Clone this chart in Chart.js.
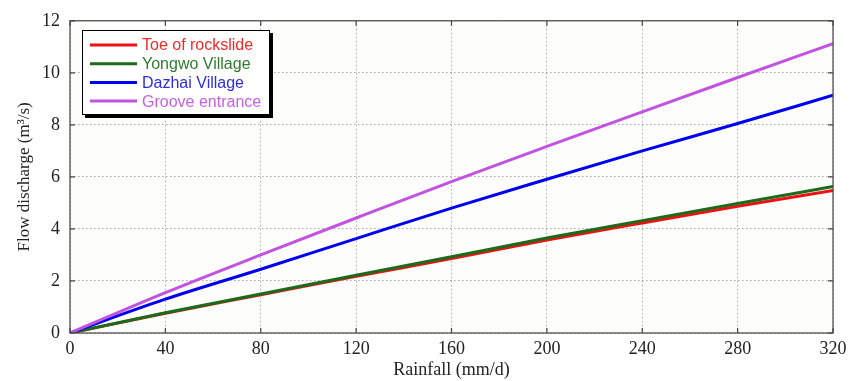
<!DOCTYPE html>
<html>
<head>
<meta charset="utf-8">
<script src="https://cdn.jsdelivr.net/npm/chart.js@4/dist/chart.umd.min.js"></script>
<style>
  html, body { margin: 0; padding: 0; background: #ffffff; }
  #wrap { width: 856px; height: 381px; position: relative; }
</style>
</head>
<body>
<div id="wrap"><canvas id="c" width="856" height="381"></canvas></div>
<script>
// ---- Data ----
const rainfall = [0, 40, 80, 120, 160, 200, 240, 280, 320];
const toeOfRockslide = [0, 0.76, 1.47, 2.18, 2.86, 3.57, 4.23, 4.87, 5.48];
const yongwoVillage  = [0, 0.78, 1.50, 2.22, 2.93, 3.65, 4.32, 4.98, 5.63];
const dazhaiVillage  = [0, 1.30, 2.45, 3.63, 4.80, 5.91, 7.00, 8.05, 9.14];
const grooveEntrance = [0, 1.55, 3.00, 4.42, 5.82, 7.17, 8.50, 9.82, 11.12];
const seriesNames = ["Toe of rockslide", "Yongwo Village", "Dazhai Village", "Groove entrance"];
const xTickValues = [0, 40, 80, 120, 160, 200, 240, 280, 320];
const yTickValues = [0, 2, 4, 6, 8, 10, 12];
const xAxisTitle = "Rainfall (mm/d)";
const yAxisTitle = "Flow discharge (m\u00B3/s)";

const lineColors = ["#ee1111", "#1c6b1c", "#0000f0", "#c252e0"];
const textColors = ["#ee2a2a", "#2f7a2f", "#2e2ee0", "#c460e2"];

function pts(ys) { return rainfall.map((x, i) => ({ x: x, y: ys[i] })); }
const allSeries = [toeOfRockslide, yongwoVillage, dazhaiVillage, grooveEntrance];

const datasets = allSeries.map((s, i) => ({
  label: seriesNames[i],
  data: pts(s),
  borderColor: lineColors[i],
  backgroundColor: lineColors[i],
  borderWidth: 3,
  pointRadius: 0,
  fill: false,
  cubicInterpolationMode: 'monotone',
  order: 4 - i
}));

const serif = "'Liberation Serif', 'Times New Roman', serif";

const framePlugin = {
  id: 'frame',
  beforeDraw(chart) {
    const { ctx, chartArea: a } = chart;
    ctx.save();
    ctx.fillStyle = '#fdfdfb';
    ctx.fillRect(a.left, a.top, a.right - a.left, a.bottom - a.top);
    ctx.restore();
  },
  afterDatasetsDraw(chart) {
    const { ctx, chartArea: a, scales } = chart;
    ctx.save();
    ctx.strokeStyle = '#444';
    ctx.lineWidth = 1.2;
    ctx.strokeRect(a.left, a.top, a.right - a.left, a.bottom - a.top);
    const tl = 5;
    ctx.beginPath();
    xTickValues.forEach(v => {
      const px = scales.x.getPixelForValue(v);
      ctx.moveTo(px, a.bottom); ctx.lineTo(px, a.bottom - tl);
      ctx.moveTo(px, a.top); ctx.lineTo(px, a.top + tl);
    });
    yTickValues.forEach(v => {
      const py = scales.y.getPixelForValue(v);
      ctx.moveTo(a.left, py); ctx.lineTo(a.left + tl, py);
      ctx.moveTo(a.right, py); ctx.lineTo(a.right - tl, py);
    });
    ctx.stroke();

    // legend box
    const bx = 82, by = 30, bw = 188, bh = 85;
    ctx.fillStyle = '#000';
    ctx.fillRect(bx + 3, by + 3, bw, bh);
    ctx.fillStyle = '#ffffff';
    ctx.fillRect(bx, by, bw, bh);
    ctx.strokeStyle = '#000';
    ctx.lineWidth = 1;
    ctx.strokeRect(bx + 0.5, by + 0.5, bw - 1, bh - 1);
    ctx.font = "16px 'Liberation Sans', Arial, sans-serif";
    ctx.textBaseline = 'middle';
    ctx.textAlign = 'left';
    chart.data.datasets.forEach((ds, i) => {
      const y = 45 + i * 18.7;
      ctx.strokeStyle = ds.borderColor;
      ctx.lineWidth = 3;
      ctx.beginPath();
      ctx.moveTo(90, y); ctx.lineTo(137, y);
      ctx.stroke();
      ctx.fillStyle = textColors[i];
      ctx.fillText(ds.label, 142, y + 1);
    });
    ctx.restore();
  }
};

new Chart(document.getElementById('c'), {
  type: 'line',
  data: { datasets: datasets },
  options: {
    responsive: false,
    animation: false,
    layout: { padding: { left: 0, right: 23, top: 16, bottom: 0 } },
    plugins: { legend: { display: false }, tooltip: { enabled: false } },
    scales: {
      x: {
        type: 'linear',
        min: 0, max: 320,
        afterBuildTicks(scale) { scale.ticks = xTickValues.map(v => ({ value: v })); },
        afterFit(scale) { scale.height = 48; },
        grid: { color: '#a8a8a8', lineWidth: 1, drawTicks: false },
        border: { display: false, dash: [1.5, 2.5] },
        ticks: { color: '#222', padding: 5, maxRotation: 0, font: { family: serif, size: 18 } },
        title: { display: true, text: xAxisTitle, color: '#222', padding: { top: 0, bottom: 0 }, font: { family: serif, size: 18 } }
      },
      y: {
        min: 0, max: 12,
        afterBuildTicks(scale) { scale.ticks = yTickValues.map(v => ({ value: v })); },
        afterFit(scale) { scale.width = 70; },
        grid: { color: '#a8a8a8', lineWidth: 1, drawTicks: false },
        border: { display: false, dash: [1.5, 2.5] },
        ticks: { color: '#222', padding: 10, font: { family: serif, size: 18 } },
        title: { display: true, text: yAxisTitle, color: '#222', padding: { top: 14, bottom: 0 }, font: { family: serif, size: 17 } }
      }
    }
  },
  plugins: [framePlugin]
});
</script>
</body>
</html>
